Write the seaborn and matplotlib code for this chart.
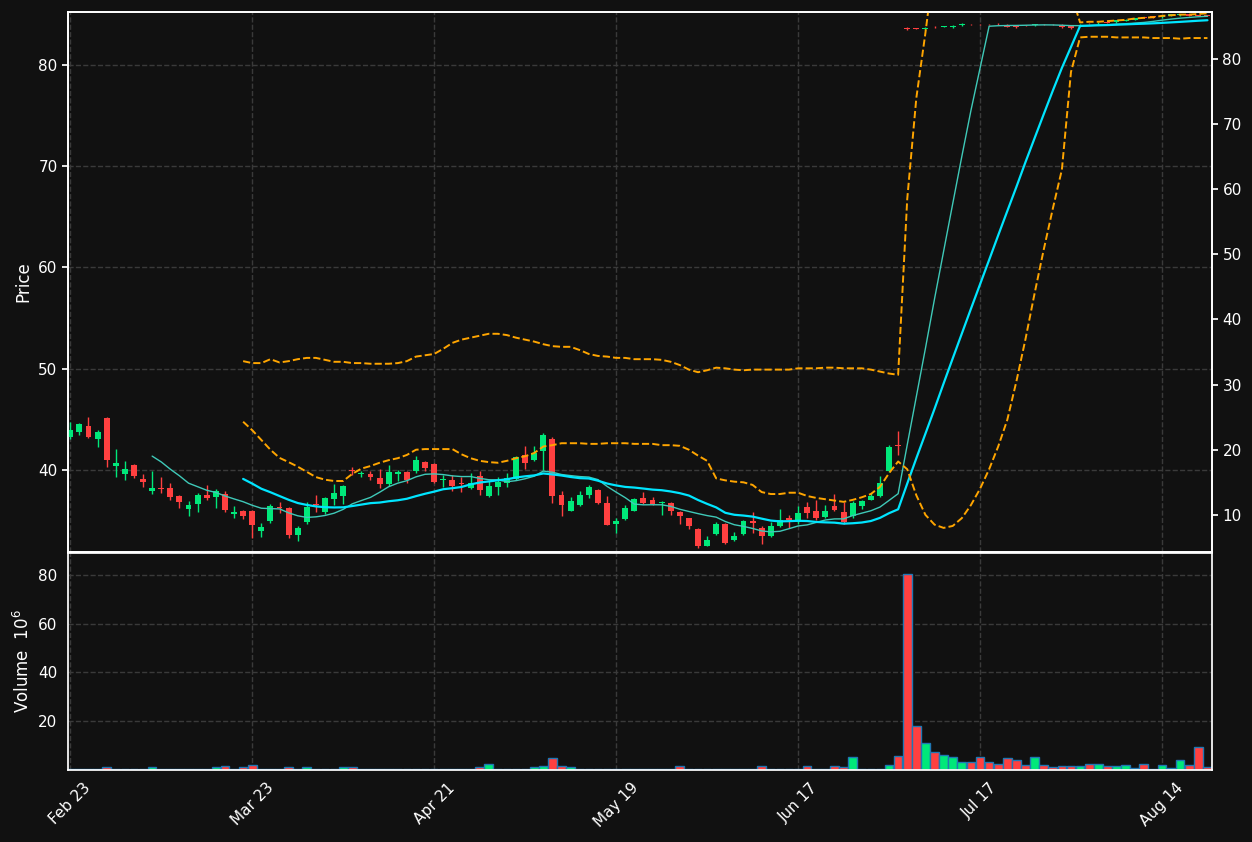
import numpy as np
import pandas as pd
import matplotlib
matplotlib.use("Agg")
import matplotlib.pyplot as plt
import seaborn as sns

tick_idx = [0, 20, 40, 60, 80, 100, 120]
tick_labels = ["Feb 23", "Mar 23", "Apr 21", "May 19", "Jun 17", "Jul 17", "Aug 14"]

opens = [43.3,43.7,44.3,43.1,45.1,40.4,39.6,40.5,39.1,37.95,
         38.25,38.2,37.4,36.1,36.6,37.5,37.3,37.6,35.7,35.9,
         35.95,34.0,35.0,36.35,36.25,33.6,34.9,36.65,35.8,37.1,
         37.4,39.95,39.55,39.6,39.2,38.65,39.55,39.8,39.9,40.8,
         40.6,39.05,39.0,38.75,38.2,39.4,37.45,38.3,38.75,39.1,
         41.5,41.0,41.9,43.05,37.5,35.95,36.5,37.55,38.0,36.75,
         34.7,35.2,35.95,37.2,37.0,36.75,36.7,35.8,35.25,34.2,
         32.5,33.7,34.7,33.05,33.7,35.0,34.3,33.5,34.5,35.3,
         34.9,36.35,35.9,35.4,36.45,35.85,35.5,36.4,37.05,37.45,
         39.9,42.5,83.65,83.58,83.5,83.72,83.73,83.7,83.9,84.02,
         84.02,84.02,84.03,83.95,83.9,83.92,83.9,84.02,84.02,83.95,
         83.85,83.85,84.12,84.1,84.17,84.2,84.35,84.45,84.67,84.8,
         84.7,84.85,84.9,85.0,84.9,84.9]
closes = [43.9,44.5,43.3,43.75,41.0,40.7,40.1,39.4,38.8,38.2,
          38.15,37.3,36.8,36.5,37.5,37.2,37.9,36.0,35.85,35.45,
          34.6,34.4,36.4,36.25,33.6,34.3,36.3,36.55,37.2,37.7,
          38.4,39.85,39.65,39.35,38.65,39.8,39.8,39.0,41.0,40.2,
          38.8,39.15,38.4,38.65,38.7,38.0,38.45,38.8,39.2,41.25,
          40.7,41.7,43.45,37.45,36.5,36.9,37.5,38.3,36.7,34.6,
          35.0,36.25,37.1,36.7,36.6,36.85,35.95,35.45,34.5,32.5,
          33.05,34.7,32.8,33.5,35.0,34.8,33.5,34.5,35.1,35.05,
          35.75,35.75,35.25,35.9,36.05,34.85,36.75,36.9,37.45,38.7,
          42.3,42.4,83.5,83.52,83.65,83.68,83.77,83.85,84.05,83.98,
          83.98,83.98,83.99,83.75,83.7,83.88,84.0,83.98,83.98,83.7,
          83.6,83.95,84.08,84.15,84.13,84.4,84.45,84.6,84.63,84.7,
          84.85,85.0,85.0,84.85,84.85,84.85]
highs = [44.7,44.6,45.2,43.9,45.2,42.1,40.9,40.6,39.6,39.9,
         39.3,38.75,37.5,36.9,37.7,38.5,38.1,37.9,36.4,36.05,
         36.0,34.8,36.6,36.8,36.3,34.5,36.8,37.55,37.3,38.6,
         38.5,40.3,39.9,39.9,40.1,40.5,40.0,39.9,41.4,40.9,
         40.7,39.5,39.5,39.35,39.7,39.9,38.9,39.3,39.7,41.35,
         42.4,42.4,43.6,43.3,37.95,37.3,37.95,38.5,38.1,37.4,
         35.3,36.5,37.2,37.8,37.3,36.9,36.8,35.9,35.3,34.25,
         33.5,34.9,34.8,33.9,35.1,35.8,34.5,34.9,36.1,35.6,
         36.45,36.8,37.0,36.5,37.6,36.8,36.9,37.0,37.7,39.4,
         42.5,43.8,83.7,83.62,83.7,83.77,83.8,83.9,84.1,84.06,
         84.06,84.06,84.07,84.0,83.95,83.96,84.05,84.06,84.06,84.0,
         83.9,84.0,84.15,84.2,84.21,84.45,84.5,84.65,84.72,84.85,
         84.9,85.05,85.05,85.05,84.95,84.95]
lows = [43.1,43.4,43.2,42.3,40.3,39.3,39.0,39.2,38.3,37.6,
        37.7,37.0,36.2,35.5,35.8,37.0,36.2,35.85,35.3,35.2,
        33.3,33.4,34.8,35.75,33.3,33.0,34.7,35.8,35.7,36.5,
        36.6,39.5,39.3,39.0,38.2,38.45,38.95,38.7,39.7,39.9,
        38.7,38.35,37.95,37.85,38.1,37.5,37.3,37.55,38.3,39.0,
        40.1,40.9,40.0,36.7,35.5,35.9,36.4,37.2,36.6,34.6,
        33.8,35.1,35.9,36.6,36.5,35.6,35.6,34.7,34.2,32.3,
        32.5,33.6,32.7,32.95,33.6,33.8,32.7,33.4,34.4,34.3,
        34.7,35.3,35.1,35.3,35.9,34.7,35.3,36.1,37.0,37.3,
        39.8,41.5,83.45,83.48,83.45,83.63,83.7,83.65,83.85,83.94,
        83.94,83.94,83.95,83.7,83.65,83.84,83.85,83.94,83.94,83.65,
        83.55,83.8,84.03,84.05,84.09,84.15,84.3,84.4,84.58,84.65,
        84.65,84.8,84.85,84.8,84.8,84.8]
volumes = [0.3,0.3,0.3,0.3,1.2,0.6,0.6,0.6,0.6,1.2,
           0.6,0.6,0.3,0.6,0.6,0.5,1.2,1.7,0.6,1.2,
           2.1,0.6,0.6,0.5,1.2,0.6,1.2,0.6,0.6,0.6,
           1.2,1.2,0.3,0.3,0.3,0.3,0.3,0.3,0.6,0.6,
           0.3,0.3,0.3,0.6,0.6,1.2,2.6,0.3,0.6,0.6,
           0.6,1.2,1.7,4.8,1.7,1.2,0.6,0.6,0.6,0.3,
           0.6,0.3,0.3,0.3,0.3,0.3,0.5,1.5,0.3,0.6,
           0.3,0.6,0.3,0.6,0.3,0.3,1.5,0.6,0.6,0.3,
           0.3,1.5,0.6,0.6,1.5,1.2,5.4,0.3,0.3,0.6,
           2.2,5.9,80.5,18.0,10.9,7.5,6.2,5.3,3.4,3.4,
           5.4,3.4,2.5,5.0,4.3,2.2,5.4,2.2,1.1,1.6,
           1.6,1.6,2.5,2.5,1.6,1.6,2.2,0.9,2.5,0.5,
           2.0,0.9,3.9,2.2,9.3,1.2]
nan = np.nan
upper_band = [nan]*19 + [33.6,33.3,33.3,33.9,33.4,33.6,33.9,34.1,34.1,33.8,33.5,
    33.5,33.3,33.3,33.2,33.2,33.2,33.3,33.6,34.3,34.5,
    34.7,35.5,36.4,36.9,37.2,37.5,37.8,37.8,37.6,37.2,
    36.9,36.6,36.2,35.9,35.8,35.8,35.3,34.7,34.4,34.3,
    34.1,34.1,33.9,33.9,33.9,33.8,33.5,33.0,32.3,31.9,
    32.2,32.6,32.5,32.3,32.2,32.3,32.3,32.3,32.3,32.3,
    32.5,32.5,32.5,32.6,32.6,32.5,32.5,32.5,32.3,32.0,
    31.7,31.5,58.5,74.0,84.0,95.0,102.0,106.0,108.0,109.0,
    109.5,109.0,108.0,107.0,106.0,104.5,103.0,101.0,98.5,95.0,
    90.0,85.6,85.7,85.7,85.8,85.9,86.0,86.2,86.3,86.4,86.6,86.7,86.8,86.8,86.9,87.0]
lower_band = [nan]*19 + [24.3,23.0,21.5,20.0,18.75,18.1,17.4,16.6,15.8,15.4,15.2,
    15.2,16.3,17.1,17.5,18.0,18.4,18.7,19.2,20.0,20.1,
    20.1,20.1,20.1,19.3,18.7,18.3,18.1,18.0,18.3,18.7,
    19.0,19.5,20.5,20.7,21.0,21.0,21.0,20.9,20.9,21.0,
    21.0,21.0,20.9,20.9,20.9,20.7,20.7,20.6,20.0,19.1,
    18.3,15.6,15.3,15.1,15.0,14.6,13.5,13.2,13.2,13.4,
    13.4,12.9,12.6,12.4,12.2,12.0,12.3,12.7,13.2,14.3,
    16.4,18.2,17.0,13.0,10.0,8.5,8.0,8.3,9.5,11.5,
    14.0,17.0,20.5,24.6,30.5,37.0,44.0,50.7,57.0,63.0,
    78.0,83.3,83.4,83.4,83.4,83.3,83.3,83.3,83.3,83.2,83.2,83.2,83.1,83.2,83.2,83.2]

BG = "#111111"
UP = "#00e87a"
DOWN = "#ff4040"
sns.set_theme(style="dark", rc={"axes.facecolor": BG, "figure.facecolor": BG,
                                "axes.edgecolor": "white", "text.color": "white",
                                "xtick.color": "white", "ytick.color": "white",
                                "axes.labelcolor": "white", "grid.color": "#3a3a3a",
                                "grid.linestyle": "--"})
plt.rcParams["font.family"] = ["DejaVu Sans"]

df = pd.DataFrame({"i": np.arange(126), "open": opens, "close": closes,
                   "high": highs, "low": lows, "volume": volumes,
                   "upper": upper_band, "lower": lower_band})
df["ma10"] = df["close"].rolling(10).mean()
df["ma20"] = df["close"].rolling(20).mean()
df["up"] = df["close"] >= df["open"]
colors = [UP if u else DOWN for u in df["up"]]

fig = plt.figure(figsize=(12.52, 8.42), dpi=100)
ax = fig.add_axes([68/1252, 290/842, 1144/1252, 540/842])
axv = fig.add_axes([68/1252, 72/842, 1144/1252, 217/842], sharex=ax)

ax.vlines(df["i"], df["low"], df["high"], colors=colors, linewidth=1, zorder=2)
bottoms = np.minimum(df["open"], df["close"])
heights = np.maximum(np.abs(df["close"] - df["open"]), 0.06)
ax.bar(df["i"], heights, bottom=bottoms, width=0.65, color=colors, linewidth=0, zorder=3)

sns.lineplot(data=df, x="i", y="ma10", ax=ax, color="#3fc9b8", linewidth=1, zorder=4)
sns.lineplot(data=df, x="i", y="ma20", ax=ax, color="#00e5ff", linewidth=1.6, zorder=4)
ax.set_ylim(31.9, 85.2)
ax.set_xlim(-0.25, 125.5)
ax.set_ylabel("Price")
ax.set_xlabel("")
ax.set_yticks([40, 50, 60, 70, 80])
ax.grid(True, axis="both")
ax.tick_params(axis="x", labelbottom=False, length=0)

ax2 = ax.twinx()
sns.lineplot(data=df, x="i", y="upper", ax=ax2, color="#ffa500", linewidth=1.4, linestyle="--")
sns.lineplot(data=df, x="i", y="lower", ax=ax2, color="#ffa500", linewidth=1.4, linestyle="--")
ax2.set_ylim(4.3, 87.2)
ax2.set_yticks([10, 20, 30, 40, 50, 60, 70, 80])
ax2.set_ylabel("")
ax2.grid(False)

axv.bar(df["i"], df["volume"], width=0.95, color=colors, edgecolor="#1f77b4", linewidth=1)
axv.set_ylim(0, 89)
axv.set_yticks([20, 40, 60, 80])
axv.set_ylabel("Volume  $10^{6}$")
axv.grid(True, axis="both")
axv.set_xticks(tick_idx)
axv.set_xticklabels(tick_labels, rotation=45, ha="center")
axv.set_xlabel("")
for a in (ax, ax2, axv):
    for s in a.spines.values():
        s.set_color("white")
ax.tick_params(axis="y", length=4, colors="white")
ax2.tick_params(axis="y", length=4, colors="white")
axv.tick_params(axis="both", length=4, colors="white")

fig.savefig("out.png", dpi=100, facecolor=BG)
